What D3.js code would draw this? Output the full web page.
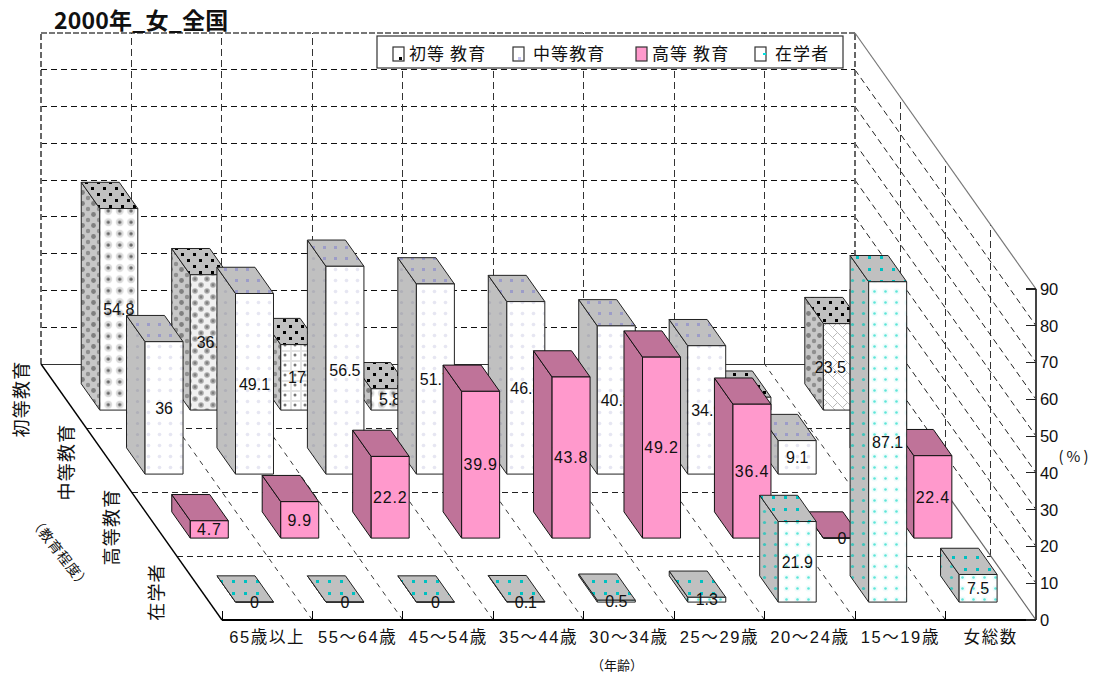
<!DOCTYPE html>
<html lang="ja"><head><meta charset="utf-8">
<script src="https://cdn.jsdelivr.net/npm/d3@7"></script>
<style>
html,body{margin:0;padding:0;background:#fff}
svg{display:block}
text{font-family:"Noto Sans CJK JP","Noto Sans",sans-serif;fill:#111}
text.num{font-family:"Liberation Sans","Noto Sans CJK JP",sans-serif}
</style></head><body>
<svg id="c" width="1093" height="679"></svg>
<script>
const title = "2000年_女_全国";
const categories = ["65歳以上","55～64歳","45～54歳","35～44歳","30～34歳","25～29歳","20～24歳","15～19歳","女総数"];
const seriesNames = ["初等教育","中等教育","高等教育","在学者"];
const legendLabels = ["初等 教育","中等教育","高等 教育","在学者"];
const primaryValues   = [54.8,36.8,17.8,5.8,1.5,1.4,1.6,3.5,23.5];
const secondaryValues = [36,49.1,56.5,51.7,46.9,40.3,34.9,9.1,43];
const tertiaryValues  = [4.7,9.9,22.2,39.9,43.8,49.2,36.4,0,22.4];
const enrolledValues  = [0,0,0,0.1,0.5,1.3,21.9,87.1,7.5];
const valueTicks = [0,10,20,30,40,50,60,70,80,90];
const depthTicks = [1,2,3];

const seriesValues = [primaryValues, secondaryValues, tertiaryValues, enrolledValues];
const svg = d3.select("#c");
const defs = svg.append("defs");

// floor/wall projection: category, row depth (0 front ... 4 back), value
const xCat = d3.scaleLinear().domain([0,9]).range([222,1036]);
const xDepth = d3.scaleLinear().domain([0,4]).range([0,-181]);
const yDepth = d3.scaleLinear().domain([0,4]).range([620,364]);
const yVal = d3.scaleLinear().domain([0,90]).range([0,-331]);
const P = (c,r,v=0)=>[xCat(c)+xDepth(r), yDepth(r)+yVal(v)];
const line = d3.line();
const seg = (a,b,st)=>{
  const straight = Math.abs(a[0]-b[0])<0.01 || Math.abs(a[1]-b[1])<0.01;
  return svg.append("path").attr("d",line([a,b])).attr("fill","none").attr("stroke",st.c).attr("stroke-width",st.w||1)
    .attr("stroke-dasharray",st.d||null).attr("shape-rendering",straight?"crispEdges":null);
};

function pattern(id,w,h,bg,draw){
  const p = defs.append("pattern").attr("id",id).attr("patternUnits","userSpaceOnUse").attr("width",w).attr("height",h);
  p.append("rect").attr("width",w).attr("height",h).attr("fill",bg);
  draw(p);
}
const dot=(p,x,y,r,f)=>p.append("circle").attr("cx",x).attr("cy",y).attr("r",r).attr("fill",f);
const sq=(p,x,y,s,f)=>p.append("rect").attr("x",x).attr("y",y).attr("width",s).attr("height",s).attr("fill",f);

pattern("p0f",11.4,11.4,"#fff",p=>{dot(p,5.7,5.7,4,"#dcdcdc");dot(p,5.7,5.7,1.7,"#666");});
pattern("p0fb",12,12,"#f0f0f0",p=>{[[3,3],[9,9]].forEach(a=>{dot(p,a[0],a[1],2.8,"#aaa");dot(p,a[0],a[1],1.4,"#808080");});});
pattern("p0fc",10,10,"#fff",p=>{[[2.5,2.5],[7.5,7.5]].forEach(a=>{p.append("path").attr("d",`M${a[0]-5} ${a[1]}L${a[0]} ${a[1]-5}L${a[0]+5} ${a[1]}L${a[0]} ${a[1]+5}Z`).attr("fill","none").attr("stroke","#bbb");});});
pattern("p0fd",10,10,"#fff",p=>{dot(p,5,5,1.5,"#777");p.append("rect").attr("width",10).attr("height",2).attr("fill","#e4e4e4");p.append("rect").attr("width",2).attr("height",10).attr("fill","#e4e4e4");});
pattern("p0s",11,11,"#c8c8c8",p=>{dot(p,5.5,5.5,2.4,"#808080");dot(p,0,0,2.2,"#909090");dot(p,11,0,2.2,"#909090");dot(p,0,11,2.2,"#909090");dot(p,11,11,2.2,"#909090");});
pattern("p0t",12,12,"#c0c0c0",p=>{sq(p,1,1,3,"#000");sq(p,7,7,3,"#000");});
pattern("p1f",11,11,"#fff",p=>{dot(p,5.5,5.5,1.8,"#e6e6f2");});
pattern("p1s",11,11,"#c0c0c0",p=>{dot(p,5.5,5.5,1.6,"#b0b0b8");});
pattern("p1t",11,11,"#c0c0c0",p=>{sq(p,4,4,3,"#9c9cc8");});
pattern("p3f",11,11,"#fff",p=>{dot(p,5.5,5.5,3,"#eefcfc");dot(p,5.5,5.5,1.3,"#5fe6d8");});
pattern("p3s",11,11,"#c0c0c0",p=>{dot(p,5.5,5.5,1.6,"#40c4bc");});
pattern("p3t",12,12,"#c0c0c0",p=>{sq(p,4,4,3,"#00c0c0");});

const faces = [
  {front:"url(#p0f)",side:"url(#p0s)",top:"url(#p0t)",stroke:"#222"},
  {front:"url(#p1f)",side:"url(#p1s)",top:"url(#p1t)",stroke:"#222"},
  {front:"#ff99cc",side:"#bf7399",top:"#bf7399",stroke:"#111"},
  {front:"url(#p3f)",side:"url(#p3s)",top:"url(#p3t)",stroke:"#222"}
];
// primary-education fronts vary bar by bar in the reference
const primaryFronts = {1:"url(#p0fb)",2:"url(#p0fd)",8:"url(#p0fc)"};
// label nudges seen in the reference, so clipped labels read alike
const primaryLabelShift = {1:3,2:4,8:-12};

// ---- walls and floor ----
const dashG={c:"#111",d:"6 4"}, dashV={c:"#333",d:"7 4"}, dashF={c:"#222",d:"6 4"}, dashT={c:"#222",d:"5 5",w:0.9};
valueTicks.slice(1,-1).forEach(v=>{
  seg(P(0,4,v),P(9,4,v),dashG);
  seg(P(9,4,v),P(9,0,v),dashF);
});
seg(P(0,4,90),P(9,4,90),{c:"#777",d:"6 2",w:1.4});
seg(P(0,4,0),P(0,4,90),{c:"#666",d:"6 3",w:1.2});
seg(P(9,4,0),P(9,4,90),{c:"#666",d:"6 3",w:1.2});
d3.range(1,9).forEach(c=>seg(P(c,4,0),P(c,4,90),dashV));
depthTicks.forEach(r=>seg(P(9,r,0),P(9,r,90),dashV));
depthTicks.forEach(r=>seg(P(0,r),P(9,r),dashF));
d3.range(1,9).forEach(c=>seg(P(c,0),P(c,4),dashT));
seg(P(0,4),P(9,4),{c:"#333"});
seg(P(9,4),P(9,0),{c:"#666",w:1.2});
seg(P(9,4,90),P(9,0,90),{c:"#777",w:1.2});
seg(P(0,4),P(0,0),{c:"#000",w:1.4});
seg(P(0,0),P(9,0),{c:"#000",w:1.4});
d3.range(0,10).forEach(c=>{const [x,y]=P(c,0);seg([x,y-9],[x,y],{c:"#000"});});
seg(P(9,0,0),P(9,0,90),{c:"#444",w:1.4});
valueTicks.forEach(v=>{
  const [x,y]=P(9,0,v);
  seg([x-10,y],[x,y],{c:"#222",w:1.2});
  svg.append("text").attr("class","num").attr("x",x+4).attr("y",y).attr("dy","0.36em").attr("font-size",16.5).attr("letter-spacing",-0.3).text(v);
});

// ---- bars, painted from the back row to the front row ----
const barC=[0.29,0.71], barR=[0.28,0.69];
const poly=(pts,f,s)=>svg.append("polygon").attr("points",pts.join(" ")).attr("fill",f).attr("stroke",s).attr("stroke-width",1).attr("stroke-linejoin","round");
[0,1,2,3].forEach(si=>{
  const r0=3-si, st=faces[si];
  seriesValues[si].forEach((v,c)=>{
    const c0=c+barC[0],c1=c+barC[1],rf=r0+barR[0],rb=r0+barR[1];
    const front = si===0 && primaryFronts[c] ? primaryFronts[c] : st.front;
    poly([P(c0,rf,0),P(c0,rb,0),P(c0,rb,v),P(c0,rf,v)],st.side,st.stroke);
    poly([P(c0,rf,v),P(c0,rb,v),P(c1,rb,v),P(c1,rf,v)],st.top,st.stroke);
    poly([P(c0,rf,0),P(c1,rf,0),P(c1,rf,v),P(c0,rf,v)],front,st.stroke);
    const [lx,ly]=P((c0+c1)/2,rf,v/2);
    const shift = si===0 ? (primaryLabelShift[c]||0) : 0;
    svg.append("text").attr("class","num").attr("x",lx+shift).attr("y",ly).attr("dy","0.36em").attr("text-anchor","middle")
      .attr("font-size",16).attr("letter-spacing",si===2?0.8:0).text(v);
  });
});

// ---- texts ----
svg.append("text").attr("x",54).attr("y",29).attr("font-size",23).attr("font-weight",700).attr("letter-spacing",0.2).text(title);
categories.forEach((t,c)=>{
  const [x,y]=P(c+0.5,0);
  svg.append("text").attr("class","num").attr("x",x).attr("y",y+23).attr("text-anchor","middle").attr("font-size",16.5).attr("letter-spacing",1.6).text(t);
});
svg.append("text").attr("x",617).attr("y",670).attr("text-anchor","middle").attr("font-size",13).text("（年齢）");
svg.append("text").attr("x",1075).attr("y",462).attr("text-anchor","middle").attr("font-size",15).attr("letter-spacing",3).text("(%)");
const rowLabelPos=[[22,399],[67,462],[112,527],[157,592]];
seriesNames.forEach((t,i)=>{
  const [x,y]=rowLabelPos[i];
  svg.append("text").attr("transform",`translate(${x},${y}) rotate(-90)`).attr("text-anchor","middle").attr("dy","0.36em")
    .attr("font-size",18).attr("letter-spacing",1.2).text(t);
});
svg.append("text").attr("transform","translate(60,553) rotate(52)").attr("text-anchor","middle").attr("dy","0.36em").attr("font-size",14).attr("letter-spacing",0.6).text("（教育程度）");

// ---- legend ----
const legend=svg.append("g");
legend.append("rect").attr("x",377).attr("y",36).attr("width",466).attr("height",32).attr("fill","#fff").attr("stroke","#333").attr("stroke-width",1.2);
const legendSwatchX=[393,513,636,755], legendTextX=[409,533,652,775];
const legendFill=["#fff","#fff","#ff99cc","#fff"], legendMark=["#000","#c8c8f0",null,"#00e0e0"];
legendLabels.forEach((t,i)=>{
  legend.append("rect").attr("x",legendSwatchX[i]).attr("y",47).attr("width",11).attr("height",14).attr("fill",legendFill[i]).attr("stroke","#333").attr("stroke-width",1.2);
  if(legendMark[i]) legend.append("rect").attr("x",legendSwatchX[i]+(i==0?6:i==1?5:8)).attr("y",i==3?53:57).attr("width",3).attr("height",i==3?2:3).attr("fill",legendMark[i]);
  legend.append("text").attr("x",legendTextX[i]).attr("y",60).attr("font-size",17).attr("letter-spacing",1.1).text(t);
});
</script>
</body></html>
